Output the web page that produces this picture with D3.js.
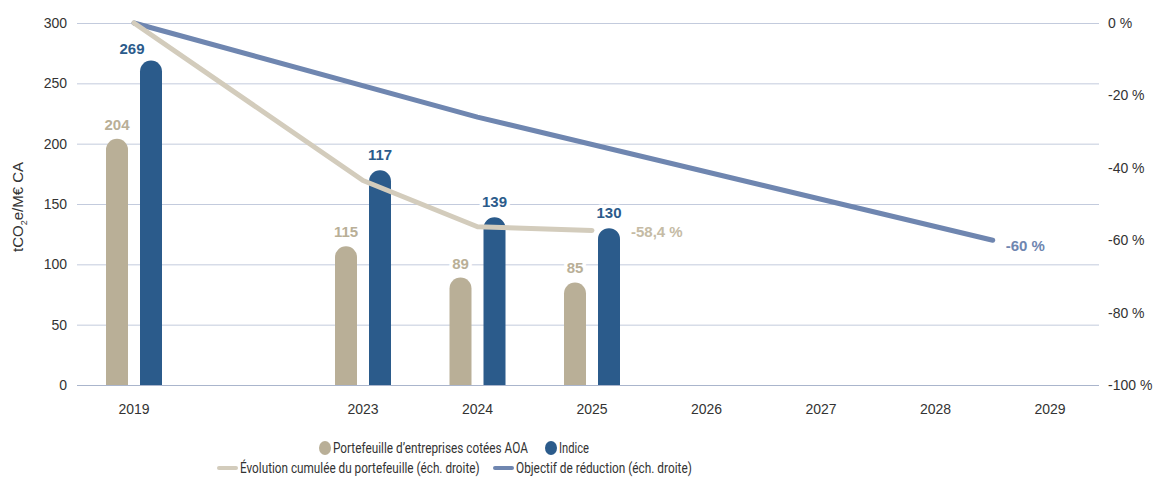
<!DOCTYPE html>
<html>
<head>
<meta charset="utf-8">
<script src="https://cdn.jsdelivr.net/npm/d3@7"></script>
<style>
  body { margin: 0; background: #fff; }
  svg { display: block; font-family: "Liberation Sans", Arial, sans-serif; }
</style>
</head>
<body>
<div id="chart"></div>
<script>
// Data
const years = [2019, 2023, 2024, 2025, 2026, 2027, 2028, 2029];
const barYears = [2019, 2023, 2024, 2025];
const portfolioValues = [204, 115, 89, 85];
const portfolioLabels = ["204", "115", "89", "85"];
const indexValues = [269, 178, 139, 130];
const indexLabels = ["269", "117", "139", "130"];

// cumulative evolution of the portfolio (right axis, %)
const evolutionYears = [2019, 2023, 2024, 2025];
const evolutionValues = [0, -43.5, -56.3, -57.3];
const evolutionLabel = "-58,4 %";

// reduction objective (right axis, %)
const objectiveYears = [2019, 2024, 2028.5];
const objectiveValues = [0, -26, -60];
const objectiveLabel = "-60 %";

const leftTicks = [0, 50, 100, 150, 200, 250, 300];
const rightTicks = [0, -20, -40, -60, -80, -100];

const colBeige = "#b9af97";
const colBlue = "#2b5b8b";
const colEvol = "#d3ccbc";
const colObj = "#6f86b0";

const W = 1156, H = 484;
const svg = d3.select("#chart").append("svg")
    .attr("width", W)
    .attr("height", H);

// x: 2019 sits one slot before 2023 (2020-2022 skipped)
function slotOf(year) { return year === 2019 ? 0 : year - 2021; }
const xSlot = d3.scaleLinear().domain([0, 8]).range([134, 1050]);
const x = year => xSlot(slotOf(year));

const y = d3.scaleLinear().domain([0, 300]).range([385, 23]);
const yPct = d3.scaleLinear().domain([-100, 0]).range([385, 23]);

const plotLeft = 77, plotRight = 1099;

// Gridlines
svg.append("g")
    .selectAll("line")
    .data(leftTicks)
    .enter().append("line")
    .attr("x1", plotLeft)
    .attr("x2", plotRight)
    .attr("y1", d => y(d) + 0.5)
    .attr("y2", d => y(d) + 0.5)
    .attr("stroke", d => d === 0 ? "#aab5cc" : "#c3cbdd")
    .attr("stroke-width", 1);

// Left axis
const leftAxis = svg.append("g")
    .attr("transform", `translate(${plotLeft - 10},0)`)
    .call(d3.axisLeft(y).tickValues(leftTicks).tickSize(0).tickPadding(0));
leftAxis.select(".domain").remove();
leftAxis.selectAll("text")
    .attr("font-size", 14)
    .attr("fill", "#333")
    .attr("font-family", "Liberation Sans, Arial, sans-serif");

// Right axis
const rightAxis = svg.append("g")
    .attr("transform", `translate(${plotRight + 9},0)`)
    .call(d3.axisRight(yPct).tickValues(rightTicks).tickSize(0).tickPadding(0)
        .tickFormat(d => d + " %"));
rightAxis.select(".domain").remove();
rightAxis.selectAll("text")
    .attr("font-size", 14)
    .attr("fill", "#333")
    .attr("font-family", "Liberation Sans, Arial, sans-serif");

// Bottom axis labels
svg.append("g")
    .selectAll("text")
    .data(years)
    .enter().append("text")
    .attr("x", d => x(d))
    .attr("y", 414)
    .attr("text-anchor", "middle")
    .attr("font-size", 14)
    .attr("fill", "#333")
    .text(d => d);

// Y axis title
const yTitle = svg.append("text")
    .attr("transform", "translate(23,207) rotate(-90)")
    .attr("text-anchor", "middle")
    .attr("font-size", 15)
    .attr("fill", "#333");
yTitle.append("tspan").text("tCO");
yTitle.append("tspan").attr("font-size", 9).attr("dy", 4).text("2");
yTitle.append("tspan").attr("dy", -4).text("e/M€ CA");

// Rounded-top bars
const barW = 22, off = 17;
function barPath(cx, v) {
    const x0 = cx - barW / 2, x1 = cx + barW / 2, r = barW / 2;
    const top = y(v), base = y(0);
    return `M${x0},${base}V${top + r}A${r},${r} 0 0 1 ${x1},${top + r}V${base}Z`;
}

svg.append("g")
    .selectAll("path")
    .data(barYears)
    .enter().append("path")
    .attr("d", (d, i) => barPath(x(d) - off, portfolioValues[i]))
    .attr("fill", colBeige);

svg.append("g")
    .selectAll("path")
    .data(barYears)
    .enter().append("path")
    .attr("d", (d, i) => barPath(x(d) + off, indexValues[i]))
    .attr("fill", colBlue);

// Lines
const evolData = evolutionYears.map((d, i) => ({ year: d, v: evolutionValues[i] }));
const objData = objectiveYears.map((d, i) => ({ year: d, v: objectiveValues[i] }));
const lineGen = d3.line().x(d => x(d.year)).y(d => yPct(d.v));

svg.append("path")
    .datum(objData)
    .attr("fill", "none")
    .attr("stroke", colObj)
    .attr("stroke-width", 5)
    .attr("stroke-linecap", "round")
    .attr("stroke-linejoin", "round")
    .attr("d", lineGen);

svg.append("path")
    .datum(evolData)
    .attr("fill", "none")
    .attr("stroke", colEvol)
    .attr("stroke-width", 5)
    .attr("stroke-linecap", "round")
    .attr("stroke-linejoin", "round")
    .attr("d", lineGen);

// Bar labels with white halo
function addLabel(tx, ty, txt, color, weight, anchor) {
    svg.append("text")
        .attr("x", tx)
        .attr("y", ty)
        .attr("text-anchor", anchor || "middle")
        .attr("font-size", 15)
        .attr("font-weight", weight)
        .attr("fill", color)
        .attr("stroke", "#fff")
        .attr("stroke-width", 7)
        .attr("stroke-linejoin", "round")
        .attr("paint-order", "stroke")
        .text(txt);
}

barYears.forEach((d, i) => {
    addLabel(x(d) - off, y(portfolioValues[i]) - 9, portfolioLabels[i], colBeige, 600);
    // the first index label is shifted left, away from the lines
    const dx = i === 0 ? -19 : 0;
    const gap = i === 0 ? 6 : 10;
    addLabel(x(d) + off + dx, y(indexValues[i]) - gap, indexLabels[i], colBlue, 700);
});

const lastEvol = evolData[evolData.length - 1];
addLabel(x(lastEvol.year) + 39, yPct(lastEvol.v) + 7, evolutionLabel, "#c5bba5", 600, "start");
const lastObj = objData[objData.length - 1];
addLabel(x(lastObj.year) + 13, yPct(lastObj.v) + 11, objectiveLabel, colObj, 700, "start");

// Legend (narrow text: squeeze each label horizontally to its width in the picture)
const legend = svg.append("g")
    .attr("font-family", "Roboto, sans-serif")
    .attr("font-size", 14)
    .attr("fill", "#333");

function legendText(tx, ty, label, len) {
    const t = legend.append("text").text(label);
    const natural = t.node().getComputedTextLength();
    t.attr("transform", `translate(${tx},${ty}) scale(${len / natural},1)`);
}

const legendRow1 = [
    { label: "Portefeuille d’entreprises cotées AOA", color: colBeige, mx: 325, tx: 333, len: 195 },
    { label: "Indice", color: colBlue, mx: 551, tx: 559, len: 30 }
];
legendRow1.forEach(d => {
    legend.append("ellipse")
        .attr("cx", d.mx)
        .attr("cy", 448)
        .attr("rx", 6)
        .attr("ry", 7)
        .attr("fill", d.color);
    legendText(d.tx, 453, d.label, d.len);
});

const legendRow2 = [
    { label: "Évolution cumulée du portefeuille (éch. droite)", color: colEvol, mx: 219, tx: 240, len: 240 },
    { label: "Objectif de réduction (éch. droite)", color: colObj, mx: 495, tx: 516, len: 176 }
];
legendRow2.forEach(d => {
    legend.append("line")
        .attr("x1", d.mx)
        .attr("x2", d.mx + 17)
        .attr("y1", 468)
        .attr("y2", 468)
        .attr("stroke", d.color)
        .attr("stroke-width", 4)
        .attr("stroke-linecap", "round");
    legendText(d.tx, 473, d.label, d.len);
});
</script>
</body>
</html>
